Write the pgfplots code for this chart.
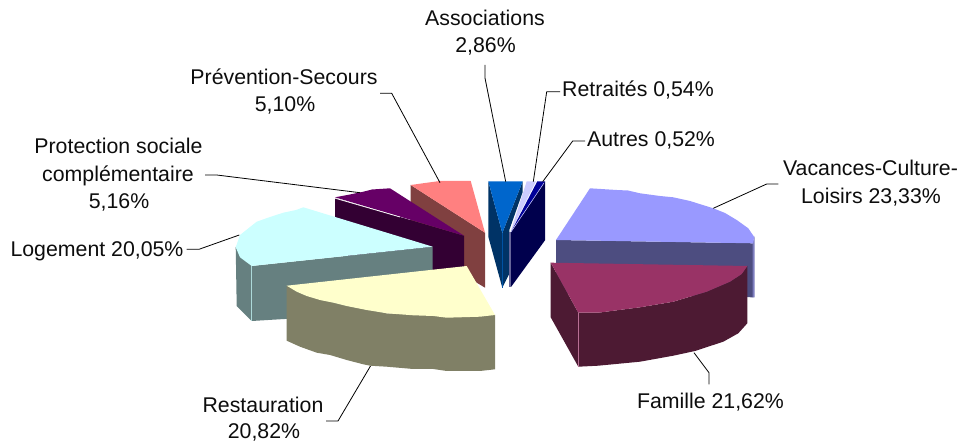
\documentclass[border=0pt]{standalone}
\usepackage{fontspec}
\setmainfont{Liberation Sans}
\usepackage{pgfplots}
\pgfplotsset{compat=1.18}
\definecolor{vacT}{HTML}{9999FF}\definecolor{vacS}{HTML}{4D4D80}\definecolor{vacE}{HTML}{7D7DBE}
\definecolor{famT}{HTML}{993366}\definecolor{famS}{HTML}{4D1A33}
\definecolor{logT}{HTML}{CCFFFF}\definecolor{logS}{HTML}{668080}
\definecolor{resT}{HTML}{FFFFCC}\definecolor{resS}{HTML}{808066}
\definecolor{proT}{HTML}{660066}\definecolor{proS}{HTML}{330033}
\definecolor{preT}{HTML}{FF8080}\definecolor{preS}{HTML}{804040}
\definecolor{assT}{HTML}{0066CC}\definecolor{assS}{HTML}{003366}
\definecolor{retT}{HTML}{CCCCFF}\definecolor{retS}{HTML}{666699}
\definecolor{autT}{HTML}{000099}\definecolor{autS}{HTML}{00004D}
\tikzset{lab/.style={anchor=base,font=\fontsize{21.3}{25}\selectfont,inner sep=0pt,text=black!95}}
\begin{document}
\begin{tikzpicture}
\path (0,0) rectangle (959pt,441pt);
\begin{axis}[at={(0,0)},anchor=south west,scale only axis,width=959pt,height=441pt,xmin=0,xmax=959,ymin=0,ymax=441,y dir=reverse,
  axis lines=none,clip=false,
  every axis plot/.append style={no markers,draw=none}]
% Prevention
\addplot[fill=preS] coordinates {(410.7,185)(485,232.7)(485,287.7)(475,281.7)(410.7,240)} -- cycle;
\addplot[fill=preT] coordinates {(410.7,185)(425,183)(440,181)(470.7,181)(485,232.7)} -- cycle;
% Protection
\addplot[fill=proS] coordinates {(335,198)(464,235.7)(464,290)(335,252)} -- cycle;
\addplot[fill=proT] coordinates {(335,197.3)(350,194.5)(363.3,191.7)(372,189.5)(390,188.3)(464,235.7)} -- cycle;
\addplot[draw=white,line width=0.7pt] coordinates {(335,198.2)(400,217)};
% Logement
\addplot[fill=logS] coordinates {(235.7,247)(251.7,266)(432.7,246.7)(432.7,310)(251.7,321)(236.7,306)} -- cycle;
\addplot[fill=logT] coordinates {(303.3,207.3)(432.7,246.7)(251.7,266)(240,257.3)(235.7,247.3)(240,235)(256.7,221.7)(270,217)(283.3,212.7)(296,210)} -- cycle;
\addplot[draw=logT!70!logS,line width=0.6pt] coordinates {(251.7,266)(251.7,321)};
% Restauration
\addplot[fill=resS] coordinates {(286.7,285.7)(296.7,291.7)(306.7,296)(346.7,306)(386.7,313.3)(495,315)(495,369.3)(480,371)(446.7,371)(433.3,369)(413.3,369)(386.7,366.7)(370,365.7)(363.3,364.3)(346.7,360)(330,355)(316.7,352.7)(300,346.7)(286.7,340.7)} -- cycle;
\addplot[fill=resT] coordinates {(466.7,266)(286.7,285.7)(296.7,291.7)(306.7,296)(320,300)(333.3,302.7)(346.7,306)(366.7,310)(386.7,313.3)(413.3,315.3)(433.3,316)(446.7,317.7)(480,316.7)(495,315)} -- cycle;
% Associations
\addplot[fill=assS] coordinates {(488.3,181.3)(502.3,233)(502.3,287.7)(488.3,236.7)} -- cycle;
\addplot[fill=assS] coordinates {(522.7,181.3)(502.3,233)(502.3,287.7)(509.3,273.7)(509.3,230)(522.7,192)} -- cycle;
\addplot[fill=assT] coordinates {(488.3,181.3)(522.7,181.3)(502.3,233)} -- cycle;
\addplot[draw=assT!60!assS,line width=0.5pt] coordinates {(502.3,233)(502.3,287.7)};
% Retraites
\addplot[fill=retS] coordinates {(509.3,232)(511,232)(511,287)(509.3,287)} -- cycle;
\addplot[fill=retT] coordinates {(526.7,181.3)(536,181.3)(510.5,232)} -- cycle;
% Autres
\addplot[fill=autS] coordinates {(545,181.3)(545,240.3)(511,287)(511,232)} -- cycle;
\addplot[fill=autT] coordinates {(537.3,181.3)(545,181.3)(511,232)} -- cycle;
\addplot[draw=retT,line width=0.5pt] coordinates {(511,232)(544,183)};
% Vacances
\addplot[fill=vacS] coordinates {(556,240)(753.3,243.3)(753.3,297.3)(556,294)} -- cycle;
\addplot[fill=vacE] coordinates {(752.5,243)(754.7,236)(754.7,297.5)(752.5,297.5)} -- cycle;
\addplot[fill=vacT] coordinates {(590,188.3)(616.7,190)(628,190.5)(640,193.3)(660,196)(673.3,197.3)(690,201)(713.3,208.3)(725,213)(736.7,220)(748.3,228.3)(754,236.7)(753.3,243.3)(556,240)} -- cycle;
% Famille
\addplot[fill=famS] coordinates {(550.7,262.7)(578.3,312.7)(578.3,366.7)(550.7,317.3)} -- cycle;
\addplot[fill=famS] coordinates {(578.3,312.7)(598.3,312.7)(640,307.3)(673.3,301.7)(706.7,291.7)(730,281.7)(741.7,274)(747.3,266)(747.3,323.3)(738.3,333.3)(723.3,341.7)(695,351)(673.3,355.7)(640,361.7)(598.3,365.7)(578.3,366.7)} -- cycle;
\addplot[fill=famT] coordinates {(550.7,262.7)(747.3,266)(741.7,274)(730,281.7)(706.7,291.7)(673.3,301.7)(640,307.3)(598.3,312.7)(578.3,312.7)} -- cycle;
\addplot[draw=famT!70!white,line width=0.5pt] coordinates {(578.3,312.7)(578.3,366.7)};
% leader lines
\addplot[draw=black,line width=0.8pt] coordinates {(485,65)(485,78)(505.7,181.7)};
\addplot[draw=black,line width=0.8pt] coordinates {(560,91.7)(546.7,91.7)(533.3,181.7)};
\addplot[draw=black,line width=0.8pt] coordinates {(585,141)(572.7,141)(542.7,181.7)};
\addplot[draw=black,line width=0.8pt] coordinates {(778.3,184)(766.7,184)(713.3,208.3)};
\addplot[draw=black,line width=0.8pt] coordinates {(380,93.3)(391.7,93.3)(440,182.7)};
\addplot[draw=black,line width=0.8pt] coordinates {(205,175)(216.7,175)(360,192.7)};
\addplot[draw=black,line width=0.8pt] coordinates {(186.7,249.3)(199,249.3)(239.3,235)};
\addplot[draw=black,line width=0.8pt] coordinates {(326,421)(338,421)(370.5,366)};
\addplot[draw=black,line width=0.8pt] coordinates {(694,352.7)(709,372.7)(709,384.3)};
% labels
\node[lab] at (axis cs:485,26) {Associations};
\node[lab] at (axis cs:485.5,53) {2,86\%};
\node[lab] at (axis cs:284,85) {Prévention-Secours};
\node[lab] at (axis cs:285,112) {5,10\%};
\node[lab] at (axis cs:118.5,154) {Protection sociale};
\node[lab] at (axis cs:118,182) {complémentaire};
\node[lab] at (axis cs:119,209) {5,16\%};
\node[lab] at (axis cs:97,257) {Logement 20,05\%};
\node[lab] at (axis cs:638,97) {Retraités 0,54\%};
\node[lab] at (axis cs:651,147) {Autres 0,52\%};
\node[lab] at (axis cs:870.5,176) {Vacances-Culture-};
\node[lab] at (axis cs:871,204) {Loisirs 23,33\%};
\node[lab] at (axis cs:263,413) {Restauration};
\node[lab] at (axis cs:264,439) {20,82\%};
\node[lab] at (axis cs:710.5,409) {Famille 21,62\%};
\end{axis}
\end{tikzpicture}
\end{document}
